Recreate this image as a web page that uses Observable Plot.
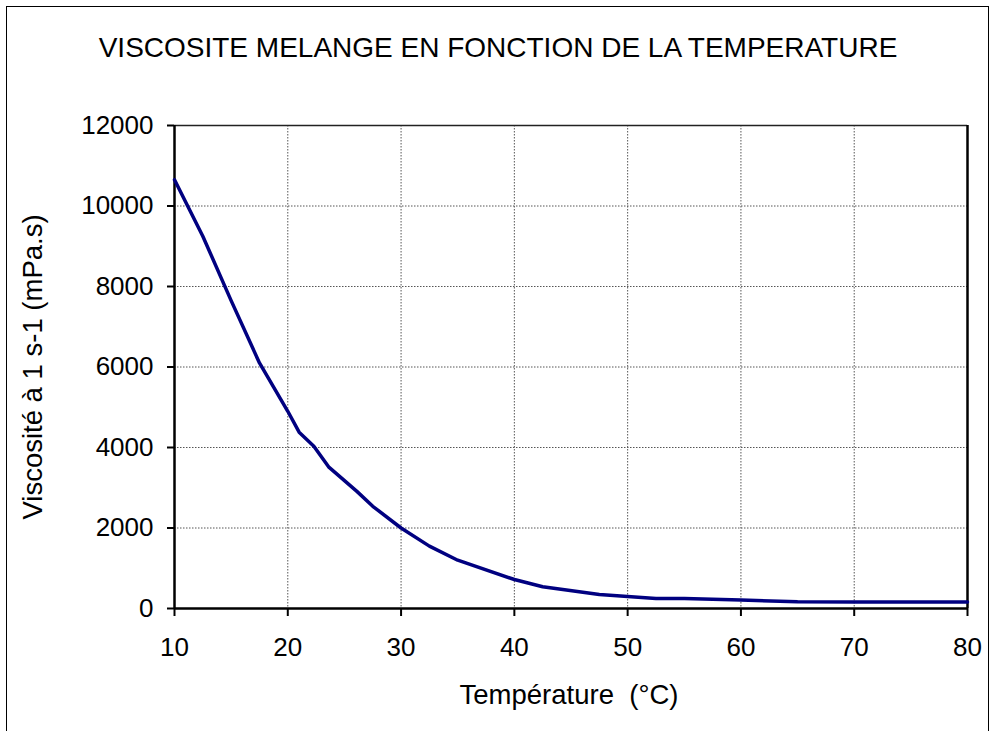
<!DOCTYPE html>
<html>
<head>
<meta charset="utf-8">
<script src="https://cdn.jsdelivr.net/npm/d3@7"></script>
<script src="https://cdn.jsdelivr.net/npm/@observablehq/plot@0.6"></script>
<style>
  html, body { margin: 0; padding: 0; background: #fff; }
  #wrap { position: relative; width: 993px; height: 731px; overflow: hidden; font-family: "Liberation Sans", Arial, sans-serif; color: #000; }
  #frame { position: absolute; left: 6px; top: 6px; width: 983px; height: 760px; border: 1.5px solid #000; box-sizing: border-box; }
  #chart { position: absolute; left: 0; top: 0; }
  .lbl { position: absolute; white-space: pre; line-height: 1; }
  #title { left: 0; width: 996px; top: 34px; text-align: center; font-size: 28px; }
  #xlabel { left: 369px; width: 400px; top: 681px; text-align: center; font-size: 27.5px; }
  #ylabel { left: 33px; top: 367px; width: 400px; text-align: center; font-size: 27.5px; transform: translate(-50%, -50%) rotate(-90deg); }
</style>
</head>
<body>
<div id="wrap">
  <div id="frame"></div>
  <div id="chart"></div>
  <div class="lbl" id="title">VISCOSITE MELANGE EN FONCTION DE LA TEMPERATURE</div>
  <div class="lbl" id="ylabel">Viscosité à 1 s-1 (mPa.s)</div>
  <div class="lbl" id="xlabel">Température  (°C)</div>
</div>
<script>
const temperature = [10, 12.5, 15, 17.5, 20, 21, 22.3, 23.6, 26.1, 27.5, 30, 32.5, 35, 40, 42.5, 47.5, 52.5, 55, 60, 65, 70, 75, 80];
const viscosity   = [10650, 9250, 7650, 6100, 4900, 4380, 4030, 3520, 2910, 2540, 2000, 1550, 1200, 720, 540, 350, 250, 250, 210, 165, 160, 160, 160];
const xTicks = [10, 20, 30, 40, 50, 60, 70, 80];
const yTicks = [0, 2000, 4000, 6000, 8000, 10000, 12000];

const data = temperature.map((t, i) => ({t, v: viscosity[i]}));

const chart = Plot.plot({
  width: 993,
  height: 731,
  marginLeft: 174,
  marginRight: 26,
  marginTop: 125,
  marginBottom: 123,
  style: {fontFamily: "'Liberation Sans', Arial, sans-serif", fontSize: "26px", background: "transparent", color: "#000"},
  x: {domain: [10, 80]},
  y: {domain: [0, 12000]},
  marks: [
    Plot.gridX(xTicks.slice(1, -1), {stroke: "#555", strokeOpacity: 1, strokeDasharray: "1.5,1.5", strokeWidth: 1}),
    Plot.gridY(yTicks.slice(1), {stroke: "#555", strokeOpacity: 1, strokeDasharray: "1.5,1.5", strokeWidth: 1}),
    Plot.ruleY([12000], {stroke: "#222", strokeWidth: 1.5}),
    Plot.ruleX([80], {stroke: "#000", strokeWidth: 2.5}),
    Plot.axisX(xTicks, {tickSize: 8, tickPadding: 21, label: null, tickFormat: d => String(d), fontSize: 26, stroke: "#000", strokeWidth: 2}),
    Plot.axisY(yTicks, {tickSize: 7, tickPadding: 14, label: null, tickFormat: d => String(d), fontSize: 26, stroke: "#000", strokeWidth: 2}),
    Plot.ruleX([10], {stroke: "#000", strokeWidth: 2.5}),
    Plot.ruleY([0], {stroke: "#000", strokeWidth: 2.5}),
    Plot.line(data, {x: "t", y: "v", stroke: "#000080", strokeWidth: 3.5, strokeLinejoin: "round"})
  ]
});
document.getElementById("chart").appendChild(chart);
</script>
</body>
</html>
